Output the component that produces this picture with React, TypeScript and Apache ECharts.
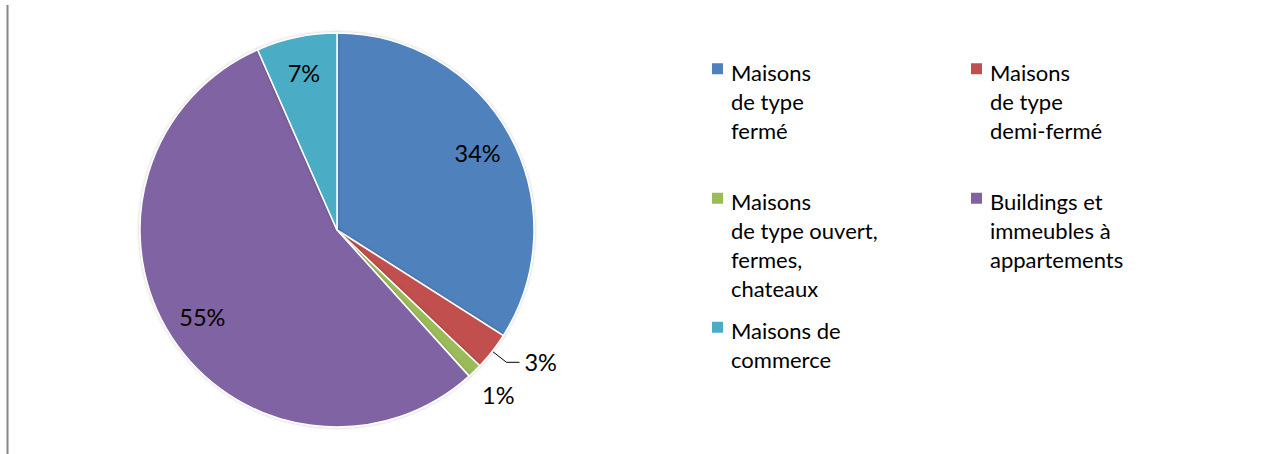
import React, { useEffect, useRef } from "react";
import * as echarts from "echarts";

const categories = [
  "Maisons\nde type\nfermé",
  "Maisons\nde type\ndemi-fermé",
  "Maisons\nde type ouvert,\nfermes,\nchateaux",
  "Buildings et\nimmeubles à\nappartements",
  "Maisons de\ncommerce",
];
const values = [34, 3.1, 1.2, 55.1, 6.6];
const colors = ["#4F81BD", "#C0504D", "#9BBB59", "#8064A2", "#4BACC6"];

const FONT = "Lato";
const FS = 22;
const LFS = 23.5;
const LH = 29;

function iconPath(lines: number): string {
  const H = lines * LH;
  return `path://M0,0L11,0M0,5.5L11,5.5L11,16.5L0,16.5ZM0,${H}L11,${H}`;
}

const fmt = (p: any) => Math.round(p.percent) + "%";

export default function App() {
  const ref = useRef<HTMLDivElement>(null);
  useEffect(() => {
    if (!ref.current) return;
    const chart = echarts.init(ref.current, undefined, { renderer: "svg" });
    const legendPos: [number, number][] = [
      [712, 57.8],
      [971, 57.8],
      [712, 187.2],
      [971, 187.2],
      [712, 316.2],
    ];
    const legends = categories.map((name, i) => {
      const n = name.split("\n").length;
      return {
        data: [{ name, icon: iconPath(n) }],
        left: legendPos[i][0],
        top: legendPos[i][1],
        padding: 0,
        itemWidth: 11,
        itemHeight: n * LH,
        selectedMode: false,
        itemStyle: { borderWidth: 0 },
        textStyle: {
          fontFamily: FONT,
          fontSize: FS,
          lineHeight: LH,
          color: "#000",
          padding: [0, 0, 0, 3],
        },
      };
    });
    const baseData = (showIdx: number[], transparent: boolean) =>
      categories.map((name, i) => ({
        name,
        value: values[i],
        itemStyle: transparent ? { color: "rgba(0,0,0,0)" } : { color: colors[i] },
        label: { show: showIdx.includes(i) },
        labelLine: { show: showIdx.includes(i) && !transparent },
      }));
    const labelStyle = {
      formatter: fmt,
      fontFamily: FONT,
      fontSize: LFS,
      color: "#000",
    };
    chart.setOption({
      animation: false,
      backgroundColor: "#fff",
      legend: legends,
      graphic: [
        {
          type: "line",
          shape: { x1: 7.5, y1: 5, x2: 7.5, y2: 454 },
          style: { stroke: "#878787", lineWidth: 2 },
        },
      ],
      series: [
        {
          type: "pie",
          center: [337, 230],
          radius: 197,
          startAngle: 90,
          clockwise: true,
          avoidLabelOverlap: false,
          data: baseData([1], false),
          itemStyle: {
            borderColor: "#fff",
            borderWidth: 1.5,
            shadowBlur: 3,
            shadowColor: "rgba(0,0,0,0.25)",
          },
          label: { ...labelStyle, position: "outside", distanceToLabelLine: 5 },
          labelLine: {
            length: 18,
            length2: 13,
            lineStyle: { color: "#000", width: 1 },
          },
          emphasis: { disabled: true },
        },
        {
          type: "pie",
          center: [337, 230],
          radius: [118, 197],
          startAngle: 90,
          clockwise: true,
          silent: true,
          avoidLabelOverlap: false,
          data: baseData([0, 3, 4], true),
          itemStyle: { borderWidth: 0 },
          label: { ...labelStyle, position: "inside" },
          labelLine: { show: false },
          emphasis: { disabled: true },
        },
        {
          type: "pie",
          center: [337, 230],
          radius: [198, 258],
          startAngle: 90,
          clockwise: true,
          silent: true,
          avoidLabelOverlap: false,
          data: baseData([2], true),
          itemStyle: { borderWidth: 0 },
          label: { ...labelStyle, position: "inside" },
          labelLine: { show: false },
          emphasis: { disabled: true },
        },
      ],
    });
    return () => chart.dispose();
  }, []);
  return (
    <div
      ref={ref}
      style={{ position: "absolute", left: 0, top: 0, width: 1262, height: 454, background: "#fff" }}
    />
  );
}
